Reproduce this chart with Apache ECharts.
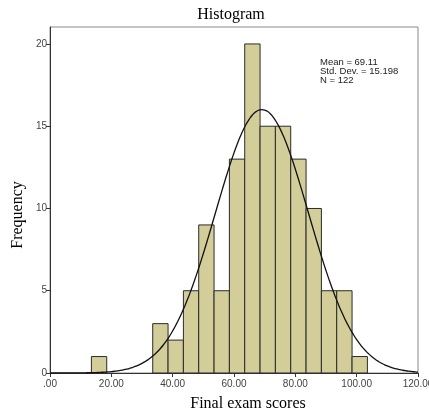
<!DOCTYPE html>
<html><head><meta charset="utf-8">
<script src="https://cdn.jsdelivr.net/npm/echarts@6/dist/echarts.min.js"></script>
<style>html,body{margin:0;padding:0;background:#fff}#c{width:429px;height:412px}</style>
</head><body><div id="c"></div>
<script>
// Data
var binCenters = [16, 36, 41, 46, 51, 56, 61, 66, 71, 76, 81, 86, 91, 96, 101];
var binCounts  = [1, 3, 2, 5, 9, 5, 13, 20, 15, 15, 13, 10, 5, 5, 1];
var binWidth = 5;
var xTicks = [0, 20, 40, 60, 80, 100, 120];
var yTicks = [0, 5, 10, 15, 20];
var statMean = 69.11, statSD = 15.198, statN = 122;
var statLines = ['Mean = 69.11', 'Std. Dev. = 15.198', 'N = 122'];

// Fitted normal curve (as drawn by SPSS from the shown statistics)
var curve = [];
for (var x = 0; x <= 120; x += 1) {
  var z = (x - statMean) / statSD;
  curve.push([x, statN * binWidth / (statSD * Math.sqrt(2 * Math.PI)) * Math.exp(-0.5 * z * z)]);
}
var barData = binCenters.map(function (c, i) { return [c - binWidth / 2, c + binWidth / 2, binCounts[i]]; });

var chart = echarts.init(document.getElementById('c'), null, {renderer: 'canvas'});
chart.setOption({
  animation: false,
  backgroundColor: '#fff',
  title: {text: 'Histogram', left: 226, top: 2, textAlign: 'center',
    textStyle: {fontFamily: 'Liberation Serif', fontSize: 16, fontWeight: 'normal', color: '#000'}},
  grid: {left: 50, right: 11, top: 27, bottom: 39, show: true, borderColor: '#8a8a8a', borderWidth: 1,
    containLabel: false, outerBoundsMode: 'none'},
  xAxis: {type: 'value', min: 0, max: 120, interval: 20,
    axisLine: {lineStyle: {color: '#333'}},
    axisTick: {length: 4, lineStyle: {color: '#333'}},
    splitLine: {show: false},
    axisLabel: {margin: 6, color: '#444', fontFamily: 'Liberation Sans', fontSize: 10, hideOverlap: false,
      formatter: function (v) { return v === 0 ? '.00' : v.toFixed(2); }}},
  yAxis: {type: 'value', min: 0, max: 21.03,
    axisLine: {show: true, lineStyle: {color: '#333'}},
    axisTick: {show: true, length: 4, lineStyle: {color: '#333'}, customValues: yTicks},
    splitLine: {show: false},
    axisLabel: {margin: 3, color: '#444', fontFamily: 'Liberation Sans', fontSize: 10, customValues: yTicks}},
  series: [{
    type: 'custom',
    data: barData,
    encode: {x: [0, 1], y: 2},
    renderItem: function (params, api) {
      var p0 = api.coord([api.value(0), 0]);
      var p1 = api.coord([api.value(1), api.value(2)]);
      return {type: 'rect', shape: {x: p0[0], y: p1[1], width: p1[0] - p0[0], height: p0[1] - p1[1]},
        style: {fill: '#d2cd99', stroke: '#2b2b2b', lineWidth: 1}};
    },
    z: 2
  }, {
    type: 'line', data: curve, showSymbol: false, smooth: true,
    lineStyle: {color: '#111', width: 1.3}, z: 3
  }],
  graphic: [
    {type: 'text', left: 320, top: 57, style: {text: statLines.join('\n'), fontFamily: 'Liberation Sans', fontSize: 9.5, lineHeight: 9, fill: '#222'}},
    {type: 'text', x: 248, y: 404, style: {text: 'Final exam scores', fontFamily: 'Liberation Serif', fontSize: 16, fill: '#000', align: 'center', verticalAlign: 'middle'}},
    {type: 'text', x: 18, y: 215, rotation: Math.PI / 2, style: {text: 'Frequency', fontFamily: 'Liberation Serif', fontSize: 16, fill: '#000', align: 'center', verticalAlign: 'middle'}}
  ]
});
</script></body></html>
